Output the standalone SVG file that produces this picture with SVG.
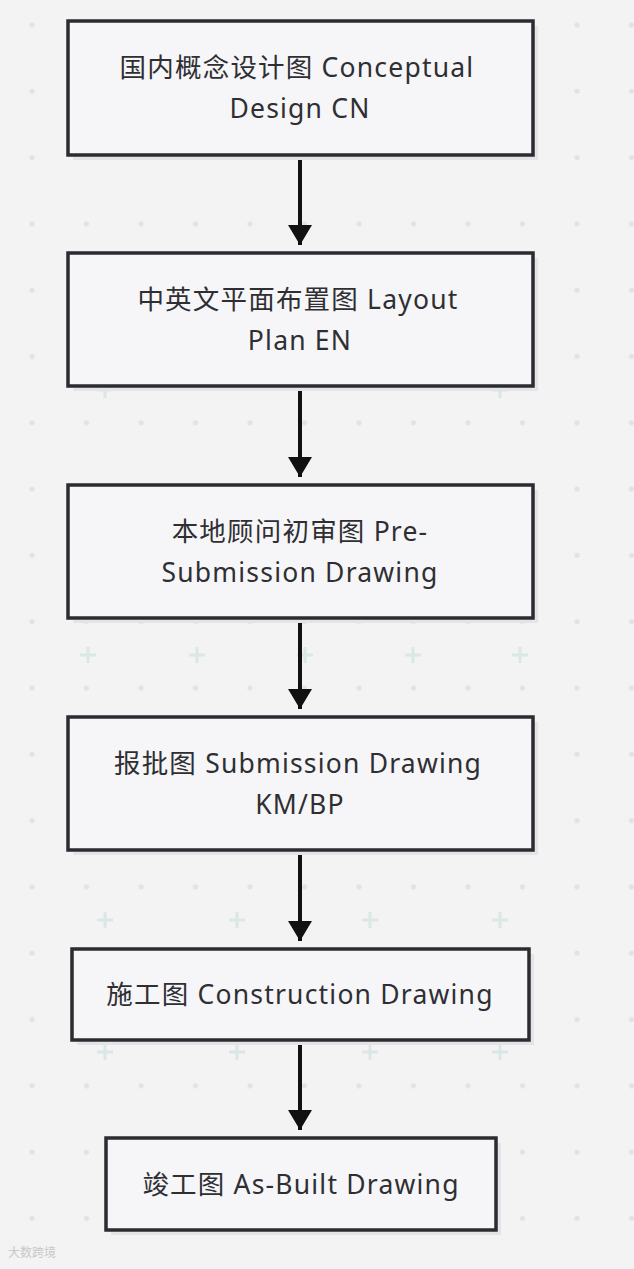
<svg xmlns="http://www.w3.org/2000/svg" width="634" height="1269" viewBox="0 0 634 1269">
<defs>
<pattern id="dots" x="5" y="-8" width="54.5" height="66.3" patternUnits="userSpaceOnUse">
<circle cx="27" cy="33" r="2.6" fill="#e2e2e2"/>
</pattern>
<marker id="arr" viewBox="0 0 20 24" refX="20" refY="12" markerWidth="20" markerHeight="24" markerUnits="userSpaceOnUse" orient="auto">
<path d="M0,0 L20,12 L0,24 Z" fill="#111"/>
</marker>
<symbol id="plus" overflow="visible"><path d="M-8,0 H8 M0,-8 V8" stroke="#d9e8e5" stroke-width="3"/></symbol>
</defs>
<style>
.box{fill:#f6f6f8;stroke:#2b2b30;stroke-width:3.5}
.sh{fill:#e4e4e8}
.t{font-family:"Noto Sans","Noto Sans CJK SC",sans-serif;font-size:26.5px;letter-spacing:1.2px;fill:#2f2f33;text-anchor:middle}
.c{stroke:#111;stroke-width:4;fill:none}
</style>
<rect width="634" height="1269" fill="#f3f3f3"/>
<rect width="634" height="1269" fill="url(#dots)"/>
<g id="pluses">
<use href="#plus" x="88" y="655"/><use href="#plus" x="197" y="655"/><use href="#plus" x="305" y="655"/><use href="#plus" x="413" y="655"/><use href="#plus" x="520" y="655"/>
<use href="#plus" x="105" y="920"/><use href="#plus" x="237" y="920"/><use href="#plus" x="370" y="920"/><use href="#plus" x="500" y="920"/>
<use href="#plus" x="105" y="1052"/><use href="#plus" x="237" y="1052"/><use href="#plus" x="370" y="1052"/><use href="#plus" x="500" y="1052"/>
<use href="#plus" x="105" y="390"/><use href="#plus" x="500" y="390"/>
</g>
<g id="connectors">
<line class="c" x1="300" y1="155" x2="300" y2="245" marker-end="url(#arr)"/>
<line class="c" x1="300" y1="386" x2="300" y2="477" marker-end="url(#arr)"/>
<line class="c" x1="300" y1="618" x2="300" y2="709" marker-end="url(#arr)"/>
<line class="c" x1="300" y1="850" x2="300" y2="941" marker-end="url(#arr)"/>
<line class="c" x1="300" y1="1040" x2="300" y2="1130" marker-end="url(#arr)"/>
</g>
<g id="n1">
<rect class="sh" x="73" y="26" width="465" height="134"/>
<rect class="box" x="68" y="21" width="465" height="134"/>
<text class="t" x="297" y="77">国内概念设计图 Conceptual</text>
<text class="t" x="300" y="118">Design CN</text>
</g>
<g id="n2">
<rect class="sh" x="73" y="258" width="465" height="133"/>
<rect class="box" x="68" y="253" width="465" height="133"/>
<text class="t" x="298" y="309">中英文平面布置图 Layout</text>
<text class="t" x="300" y="350">Plan EN</text>
</g>
<g id="n3">
<rect class="sh" x="73" y="490" width="465" height="133"/>
<rect class="box" x="68" y="485" width="465" height="133"/>
<text class="t" x="300" y="541">本地顾问初审图 Pre-</text>
<text class="t" x="300" y="582">Submission Drawing</text>
</g>
<g id="n4">
<rect class="sh" x="73" y="722" width="465" height="133"/>
<rect class="box" x="68" y="717" width="465" height="133"/>
<text class="t" x="298" y="773">报批图 Submission Drawing</text>
<text class="t" x="300" y="814">KM/BP</text>
</g>
<g id="n5">
<rect class="sh" x="77" y="954" width="457" height="91"/>
<rect class="box" x="72" y="949" width="457" height="91"/>
<text class="t" x="300" y="1004">施工图 Construction Drawing</text>
</g>
<g id="n6">
<rect class="sh" x="111" y="1143" width="390" height="92"/>
<rect class="box" x="106" y="1138" width="390" height="92"/>
<text class="t" x="301" y="1194">竣工图 As-Built Drawing</text>
</g>
<text x="8" y="1257" font-family="Noto Sans CJK SC, sans-serif" font-size="12" fill="#c8c8c8">大数跨境</text>
</svg>
